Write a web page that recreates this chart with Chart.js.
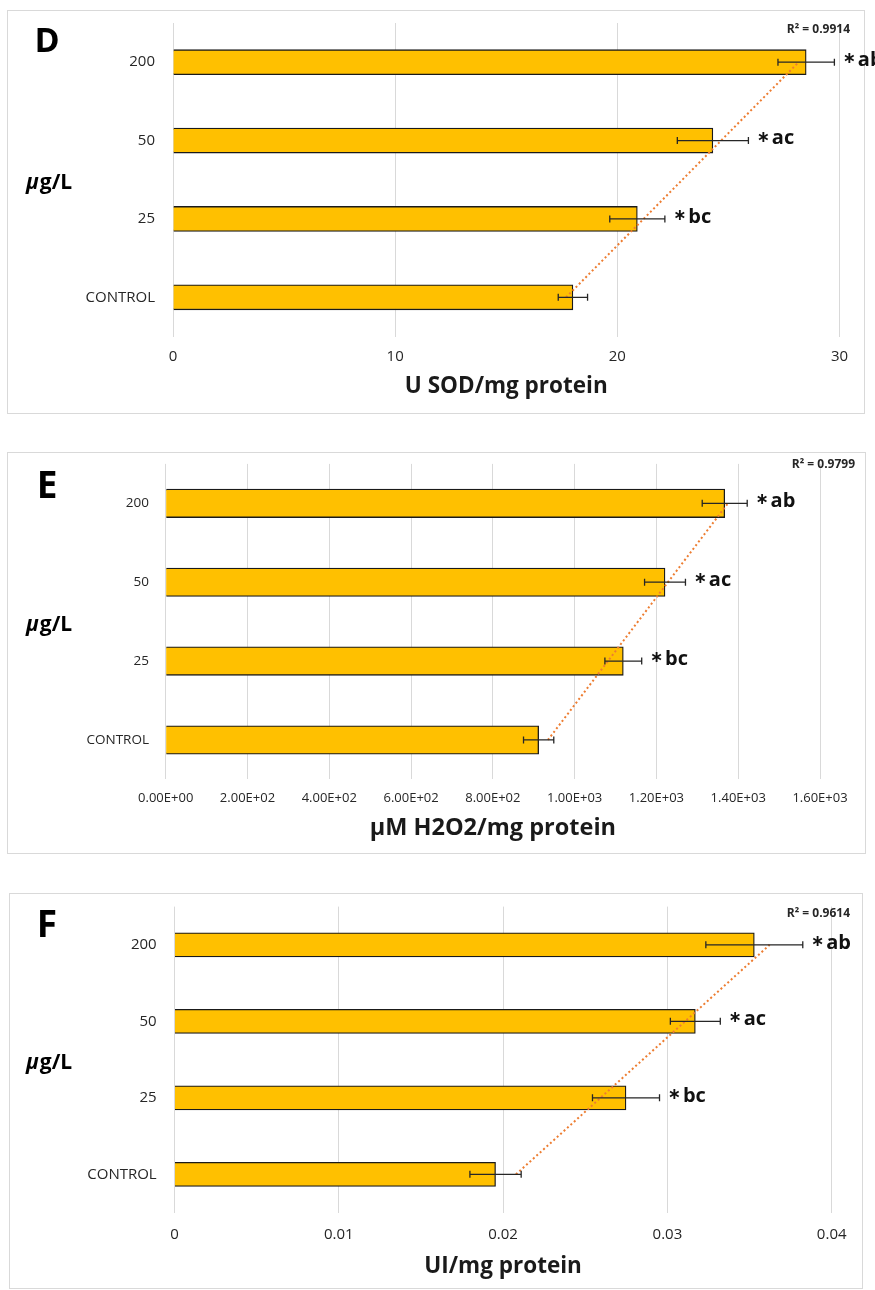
<!DOCTYPE html>
<html>
<head>
<meta charset="utf-8">
<script src="https://cdn.jsdelivr.net/npm/chart.js@4.4.1/dist/chart.umd.min.js"></script>
<style>
  body { margin: 0; background: #fff; width: 875px; height: 1290px; position: relative; overflow: hidden; }
  canvas { position: absolute; left: 0; }
</style>
</head>
<body>
<canvas id="chartD" width="875" height="430" style="top:0px"></canvas>
<canvas id="chartE" width="875" height="432" style="top:440px"></canvas>
<canvas id="chartF" width="875" height="410" style="top:880px"></canvas>
<script>
// groups, bottom to top
const groups = ['CONTROL', '25', '50', '200']
const sigLabels = ['', 'bc', 'ac', 'ab']

// D - SOD
const sodValues = [18.0, 20.9, 24.3, 28.5]
const sodErrors = [0.66, 1.24, 1.6, 1.27]
// E - H2O2
const h2o2Values = [912, 1119, 1221, 1367]
const h2o2Errors = [37, 45, 50, 55]
// F - UI
const uiValues = [0.01954, 0.02748, 0.0317, 0.03529]
const uiErrors = [0.00156, 0.00204, 0.00152, 0.00295]

const r2Labels = ['R² = 0.9914', 'R² = 0.9799', 'R² = 0.9614']
const axisTitles = ['U SOD/mg protein', 'μM H2O2/mg protein', 'UI/mg protein']
const panelLetters = ['D', 'E', 'F']

// linear trendline over the category index (like the excel one)
const trend = vals => {
  const n = vals.length
  const xs = vals.map((_, i) => i + 1)
  const mx = xs.reduce((a, b) => a + b) / n
  const my = vals.reduce((a, b) => a + b) / n
  let sxy = 0, sxx = 0
  xs.forEach((x, i) => { sxy += (x - mx) * (vals[i] - my); sxx += (x - mx) ** 2 })
  const b = sxy / sxx
  return xs.map(x => my + b * (x - mx))
}

const expFmt = v => {
  const [m, e] = Number(v).toExponential(2).split('e')
  return m + 'E' + (e[0] === '-' ? '-' : '+') + String(Math.abs(+e)).padStart(2, '0')
}

const FONT = "'Open Sans', 'DejaVu Sans', sans-serif"

function makePanel (cfg) {
  const g = cfg.geom
  const axisH = 72

  const panelPlugin = {
    id: 'panel' + cfg.letter,
    beforeDraw (chart) {
      const c = chart.ctx
      c.save()
      c.fillStyle = '#fff'
      c.fillRect(0, 0, chart.width, chart.height)
      c.strokeStyle = '#d9d9d9'
      c.lineWidth = 1
      c.strokeRect(cfg.box[0], cfg.box[1], cfg.box[2] - cfg.box[0], cfg.box[3] - cfg.box[1])
      c.restore()
    },
    afterDatasetsDraw (chart) {
      const c = chart.ctx
      const xs = chart.scales.x
      const bars = chart.getDatasetMeta(1).data
      c.save()
      bars.forEach((bar, i) => {
        const v = cfg.values[i], e = cfg.errors[i]
        const x1 = xs.getPixelForValue(v - e)
        const x2 = xs.getPixelForValue(v + e)
        const y = bar.y
        c.strokeStyle = '#262626'
        c.lineWidth = 1.3
        c.beginPath()
        c.moveTo(x1, y); c.lineTo(x2, y)
        c.moveTo(x1, y - 3.5); c.lineTo(x1, y + 3.5)
        c.moveTo(x2, y - 3.5); c.lineTo(x2, y + 3.5)
        c.stroke()
        if (sigLabels[i]) {
          c.fillStyle = '#111'
          c.textBaseline = 'middle'
          c.textAlign = 'left'
          c.font = 'bold 16px ' + FONT
          c.fillText('∗', x2 + 8, y - 3.5)
          const w = c.measureText('∗').width
          c.font = 'bold 20px ' + FONT
          c.fillText(sigLabels[i], x2 + 10 + w, y - 2)
        }
      })
      c.restore()
    },
    afterDraw (chart) {
      const c = chart.ctx
      const a = chart.chartArea
      const midY = (a.top + a.bottom) / 2 + 3
      c.save()
      c.fillStyle = '#000'
      c.textAlign = 'center'
      c.textBaseline = 'middle'
      c.font = 'bold ' + cfg.letterSize + 'px ' + FONT
      c.fillText(cfg.letter, cfg.letterPos[0], cfg.letterPos[1])
      // y title: italic mu + g/L
      c.textAlign = 'left'
      c.font = 'italic bold 21px ' + FONT
      c.fillText('μ', 26, midY)
      const mw = c.measureText('μ').width
      c.font = 'bold 21px ' + FONT
      c.fillText('g/L', 26 + mw + 1, midY)
      c.textAlign = 'right'
      c.font = 'bold 12px ' + FONT
      c.fillStyle = '#262626'
      c.fillText(cfg.r2, cfg.r2Pos[0], cfg.r2Pos[1])
      c.restore()
    }
  }

  return new Chart(document.getElementById(cfg.id), {
    type: 'bar',
    data: {
      labels: groups,
      datasets: [{
        type: 'line',
        indexAxis: 'y',
        data: trend(cfg.values),
        borderColor: '#ED7D31',
        borderWidth: 2,
        borderDash: [2, 2.6],
        pointRadius: 0,
        fill: false,
        order: 0
      }, {
        data: cfg.values,
        backgroundColor: '#FFC000',
        borderColor: '#1a1a1a',
        borderWidth: 1.3,
        barThickness: cfg.barThickness,
        order: 1
      }]
    },
    options: {
      indexAxis: 'y',
      responsive: false,
      animation: false,
      layout: { padding: { left: 0, top: g.top, right: 875 - g.right, bottom: g.h - g.bottom - axisH } },
      plugins: { legend: { display: false }, tooltip: { enabled: false } },
      scales: {
        x: {
          min: 0,
          max: cfg.max,
          afterFit: s => { s.height = axisH },
          ticks: {
            stepSize: cfg.step,
            callback: cfg.fmt,
            color: '#262626',
            font: { family: FONT, size: cfg.tickSize },
            padding: cfg.tickPad,
            maxRotation: 0,
            autoSkip: false
          },
          grid: { color: '#d9d9d9', drawTicks: false, lineWidth: 1 },
          border: { display: false },
          title: {
            display: true,
            text: cfg.title,
            color: '#1a1a1a',
            font: { family: FONT, size: cfg.titleSize, weight: 'bold' },
            padding: { top: 0, bottom: cfg.titlePad }
          }
        },
        y: {
          reverse: true,
          afterFit: s => { s.width = g.left; s.paddingTop = 0; s.paddingBottom = 0 },
          grid: { display: false, drawTicks: false },
          border: { display: false },
          ticks: {
            color: '#262626',
            font: { family: FONT, size: cfg.catSize },
            padding: cfg.catPad
          }
        }
      }
    },
    plugins: [panelPlugin]
  })
}

makePanel({
  id: 'chartD', letter: panelLetters[0], letterSize: 34, letterPos: [47, 42],
  values: sodValues, errors: sodErrors, r2: r2Labels[0], r2Pos: [850, 29.5],
  title: axisTitles[0], titleSize: 22.5, max: 30, step: 10, fmt: v => String(v),
  geom: { left: 173, right: 839.5, top: 23, bottom: 336.5, h: 430 },
  box: [7.5, 10.5, 864.5, 413.5], barThickness: 25,
  tickSize: 15, tickPad: 11, titlePad: 8.6, catSize: 15, catPad: 18
})

makePanel({
  id: 'chartE', letter: panelLetters[1], letterSize: 37, letterPos: [47, 47],
  values: h2o2Values, errors: h2o2Errors, r2: r2Labels[1], r2Pos: [855, 25],
  title: axisTitles[1], titleSize: 23.5, max: 1600, step: 200, fmt: expFmt,
  geom: { left: 165.7, right: 820, top: 23.9, bottom: 339.4, h: 432 },
  box: [7.5, 12.5, 865.5, 413.5], barThickness: 28.5,
  tickSize: 13, tickPad: 11, titlePad: 9.3, catSize: 13.5, catPad: 16.7
})

makePanel({
  id: 'chartF', letter: panelLetters[2], letterSize: 37, letterPos: [47, 46],
  values: uiValues, errors: uiErrors, r2: r2Labels[2], r2Pos: [850, 34],
  title: axisTitles[2], titleSize: 22.5, max: 0.04, step: 0.01, fmt: v => v === 0 ? '0' : String(+Number(v).toFixed(3)),
  geom: { left: 174.5, right: 831.7, top: 26.6, bottom: 332.6, h: 410 },
  box: [9.5, 13.5, 862.5, 408.5], barThickness: 24,
  tickSize: 15, tickPad: 13.4, titlePad: 5, catSize: 15, catPad: 17.8
})
</script>
</body>
</html>
